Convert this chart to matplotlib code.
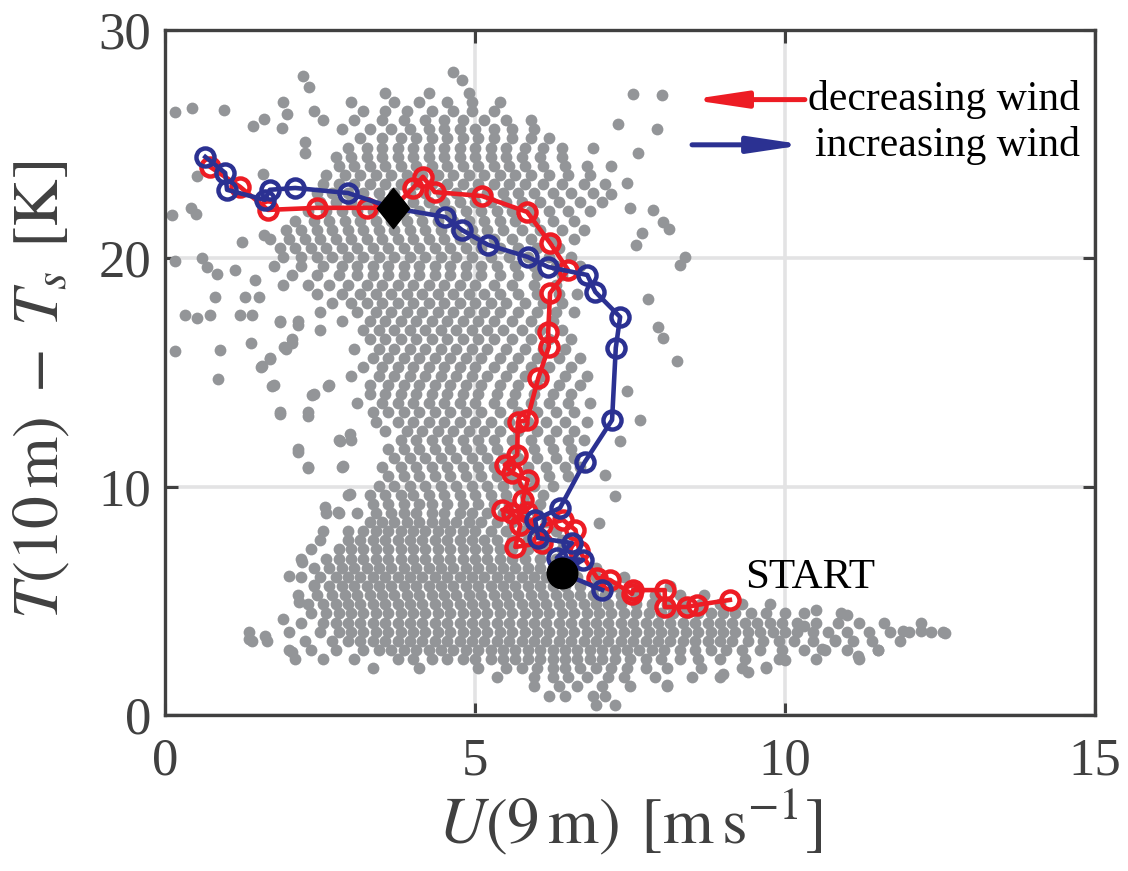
import matplotlib.pyplot as plt
from matplotlib.path import Path
import numpy as np

plt.rcParams['font.family'] = ['Liberation Serif', 'DejaVu Serif']
plt.rcParams['mathtext.fontset'] = 'stix'

# --- measured cloud: temperature difference levels and the wind speeds observed at each ---
row_t = [0.45, 0.85, 1.25, 1.65, 2.05, 2.45, 2.85, 3.25, 3.65, 4.05, 4.45, 4.85, 5.25, 5.65,
         6.05, 6.45, 6.85, 7.25, 7.65, 8.05, 8.45, 8.85, 9.25, 9.65, 10.05, 10.45, 10.85,
         11.25, 11.65, 12.05, 12.45, 12.85, 13.25, 13.65, 14.05, 14.45, 14.85, 15.25, 15.65,
         16.05, 16.45, 16.85, 17.25, 17.65, 18.05, 18.45, 18.85, 19.25, 19.65, 20.05, 20.45,
         20.85, 21.25, 21.65, 22.05, 22.45, 22.85, 23.25, 23.65, 24.05, 24.45, 24.85, 25.25,
         25.65, 26.05, 26.45, 26.85, 27.25]
row_u = [
    [6.95, 7.25],
    [6.2, 6.45, 6.9, 7.1],
    [5.95, 6.35, 6.65, 7.05, 7.5, 8.1],
    [5.35, 5.95, 6.25, 6.5, 6.8, 7.15, 7.4, 7.9, 8.5, 8.95],
    [3.35, 4.1, 5.05, 5.5, 5.75, 6.0, 6.25, 6.45, 6.7, 6.95, 7.2, 7.45, 7.75, 8.1, 8.65, 9.3, 9.7],
    [2.1, 2.55, 3.05, 3.75, 4.0, 4.3, 4.55, 4.8, 5.0, 5.25, 5.45, 5.65, 5.85, 6.05, 6.25, 6.45,
     6.65, 6.85, 7.05, 7.25, 7.5, 7.75, 8.0, 8.3, 8.6, 8.95, 9.35, 9.9, 10.5, 11.2],
    [2.0, 2.35, 2.75, 3.2, 3.45, 3.65, 3.85, 4.05, 4.25, 4.45, 4.65, 4.85, 5.05, 5.25, 5.45,
     5.65, 5.85, 6.05, 6.25, 6.45, 6.65, 6.85, 7.05, 7.25, 7.45, 7.65, 7.85, 8.05, 8.3, 8.55,
     8.8, 9.05, 9.3, 9.6, 9.95, 10.3, 10.65, 11.0, 11.5],
    [1.4, 1.65, 2.25, 2.7, 2.95, 3.15, 3.35, 3.55, 3.75, 3.95, 4.15, 4.35, 4.55, 4.75, 4.95,
     5.15, 5.35, 5.55, 5.75, 5.95, 6.15, 6.35, 6.55, 6.75, 6.95, 7.15, 7.35, 7.55, 7.75, 7.95,
     8.15, 8.35, 8.55, 8.75, 8.95, 9.15, 9.4, 9.65, 9.9, 10.15, 10.45, 10.8, 11.1, 11.4, 11.85],
    [1.35, 2.0, 2.5, 2.8, 3.0, 3.2, 3.4, 3.6, 3.8, 4.0, 4.2, 4.4, 4.6, 4.8, 5.0, 5.2, 5.4, 5.6,
     5.8, 6.0, 6.2, 6.4, 6.6, 6.8, 7.0, 7.2, 7.4, 7.6, 7.8, 8.0, 8.2, 8.4, 8.6, 8.8, 9.0, 9.2,
     9.4, 9.6, 9.8, 10.0, 10.2, 10.45, 10.7, 11.0, 11.35, 11.7, 12.0, 12.35, 12.55],
    [2.2, 2.55, 2.75, 2.95, 3.15, 3.35, 3.55, 3.75, 3.95, 4.15, 4.35, 4.55, 4.75, 4.95, 5.15,
     5.35, 5.55, 5.75, 5.95, 6.15, 6.35, 6.55, 6.75, 6.95, 7.15, 7.35, 7.55, 7.75, 7.95, 8.15,
     8.35, 8.55, 8.75, 8.95, 9.15, 9.35, 9.55, 9.75, 9.95, 10.2, 10.5, 10.85, 11.2, 11.6, 12.2],
    [2.35, 2.6, 2.8, 3.0, 3.2, 3.4, 3.6, 3.8, 4.0, 4.2, 4.4, 4.6, 4.8, 5.0, 5.2, 5.4, 5.6, 5.8,
     6.0, 6.2, 6.4, 6.6, 6.8, 7.0, 7.2, 7.4, 7.6, 7.8, 8.0, 8.2, 8.4, 8.6, 8.8, 9.0, 9.2, 9.45,
     9.7, 10.0, 10.3, 10.9],
    [2.3, 2.55, 2.75, 2.95, 3.15, 3.35, 3.55, 3.75, 3.95, 4.15, 4.35, 4.55, 4.75, 4.95, 5.15,
     5.35, 5.55, 5.75, 5.95, 6.15, 6.35, 6.55, 6.75, 6.95, 7.15, 7.35, 7.6, 7.85, 8.1, 8.35,
     8.65, 8.95, 9.3, 9.75],
    [2.15, 2.45, 2.7, 2.9, 3.1, 3.3, 3.5, 3.7, 3.9, 4.1, 4.3, 4.5, 4.7, 4.9, 5.1, 5.3, 5.5, 5.7,
     5.9, 6.1, 6.3, 6.5, 6.7, 6.9, 7.1, 7.35, 7.6, 7.9, 8.3, 8.7],
    [2.4, 2.65, 2.85, 3.05, 3.25, 3.45, 3.65, 3.85, 4.05, 4.25, 4.45, 4.65, 4.85, 5.05, 5.25,
     5.45, 5.65, 5.85, 6.05, 6.25, 6.45, 6.7, 6.95, 7.25, 7.6, 8.15],
    [2.2, 2.5, 2.75, 2.95, 3.15, 3.35, 3.55, 3.75, 3.95, 4.15, 4.35, 4.55, 4.75, 4.95, 5.15,
     5.35, 5.55, 5.75, 5.95, 6.15, 6.4, 6.65, 6.95, 7.4],
    [2.4, 2.65, 2.85, 3.05, 3.25, 3.45, 3.65, 3.85, 4.05, 4.25, 4.45, 4.65, 4.85, 5.05, 5.25,
     5.45, 5.65, 5.85, 6.05, 6.3, 6.6, 6.95],
    [2.2, 2.6, 2.8, 3.0, 3.2, 3.4, 3.6, 3.8, 4.0, 4.2, 4.4, 4.6, 4.8, 5.0, 5.2, 5.4, 5.6, 5.8,
     6.05, 6.3, 6.6],
    [2.35, 2.8, 3.0, 3.2, 3.4, 3.6, 3.8, 4.0, 4.2, 4.4, 4.6, 4.8, 5.0, 5.2, 5.4, 5.6, 5.85, 6.1, 6.4],
    [2.5, 2.95, 3.15, 3.35, 3.55, 3.75, 3.95, 4.15, 4.35, 4.55, 4.75, 4.95, 5.15, 5.35, 5.6,
     5.85, 6.15, 6.4],
    [2.55, 2.95, 3.2, 3.4, 3.6, 3.8, 4.0, 4.2, 4.4, 4.6, 4.8, 5.0, 5.25, 5.5, 5.75, 6.0, 6.3],
    [3.3, 3.5, 3.7, 3.9, 4.1, 4.3, 4.5, 4.7, 4.9, 5.1, 5.35, 5.6, 5.85, 6.15],
    [2.6, 2.8, 3.1, 3.4, 3.65, 3.85, 4.05, 4.3, 4.5, 4.75, 4.95, 5.2, 5.45, 5.75, 6.0],
    [3.35, 3.6, 3.85, 4.1, 4.3, 4.55, 4.8, 5.05, 5.3, 5.55, 5.8, 6.05],
    [2.95, 3.3, 3.55, 3.8, 4.0, 4.25, 4.5, 4.75, 5.0, 5.25, 5.5, 5.8, 6.1],
    [3.45, 3.7, 3.95, 4.2, 4.45, 4.7, 4.95, 5.2, 5.45, 5.7, 5.95, 6.25],
    [3.6, 3.85, 4.1, 4.35, 4.6, 4.85, 5.1, 5.35, 5.6, 5.9, 6.2, 6.5],
    [2.3, 2.85, 3.5, 3.8, 4.05, 4.3, 4.55, 4.8, 5.05, 5.3, 5.55, 5.85, 6.15, 6.45, 6.7],
    [3.7, 3.95, 4.2, 4.45, 4.7, 4.95, 5.2, 5.45, 5.7, 6.0, 6.3, 6.6],
    [2.15, 3.6, 3.85, 4.1, 4.35, 4.6, 4.85, 5.1, 5.35, 5.65, 5.95, 6.25, 6.55],
    [2.8, 3.0, 3.8, 4.05, 4.3, 4.55, 4.8, 5.05, 5.3, 5.6, 5.9, 6.2, 6.5, 6.75],
    [3.55, 3.9, 4.15, 4.4, 4.65, 4.9, 5.15, 5.4, 5.7, 6.0, 6.3, 6.6],
    [3.4, 3.75, 4.0, 4.25, 4.5, 4.75, 5.0, 5.25, 5.55, 5.85, 6.15, 6.45, 6.8],
    [1.85, 2.3, 3.35, 3.6, 3.85, 4.1, 4.35, 4.6, 4.85, 5.1, 5.4, 5.7, 6.0, 6.3, 6.6],
    [3.1, 3.5, 3.75, 4.0, 4.25, 4.5, 4.75, 5.0, 5.3, 5.6, 5.9, 6.2, 6.5, 6.85],
    [2.4, 3.3, 3.55, 3.8, 4.05, 4.3, 4.55, 4.8, 5.05, 5.35, 5.65, 5.95, 6.25, 6.55],
    [1.75, 2.65, 3.3, 3.6, 3.85, 4.1, 4.35, 4.6, 4.85, 5.1, 5.4, 5.7, 6.0, 6.35, 6.7],
    [3.0, 3.45, 3.7, 3.95, 4.2, 4.45, 4.7, 4.95, 5.2, 5.5, 5.8, 6.1, 6.45, 6.8],
    [1.55, 3.2, 3.5, 3.75, 4.0, 4.25, 4.5, 4.75, 5.0, 5.3, 5.6, 5.9, 6.2, 6.55],
    [1.7, 3.35, 3.6, 3.85, 4.1, 4.35, 4.6, 4.85, 5.1, 5.4, 5.7, 6.0, 6.35, 6.7],
    [1.95, 3.05, 3.45, 3.7, 3.95, 4.2, 4.45, 4.7, 4.95, 5.2, 5.5, 5.8, 6.1, 6.45],
    [2.05, 3.3, 3.55, 3.8, 4.05, 4.3, 4.55, 4.8, 5.05, 5.3, 5.6, 5.9, 6.2, 6.55],
    [2.5, 3.2, 3.45, 3.7, 3.95, 4.2, 4.45, 4.7, 4.95, 5.2, 5.45, 5.75, 6.05, 6.4],
    [1.85, 2.15, 2.85, 3.3, 3.55, 3.8, 4.05, 4.3, 4.55, 4.8, 5.05, 5.3, 5.6, 5.9, 6.25],
    [2.5, 3.1, 3.4, 3.65, 3.9, 4.15, 4.4, 4.65, 4.9, 5.15, 5.4, 5.7, 6.0, 6.3, 6.6],
    [2.7, 3.0, 3.25, 3.5, 3.75, 4.0, 4.25, 4.5, 4.75, 5.0, 5.25, 5.5, 5.8, 6.1, 6.4],
    [2.45, 2.85, 3.15, 3.4, 3.65, 3.9, 4.15, 4.4, 4.65, 4.9, 5.15, 5.4, 5.7, 6.0, 6.35, 6.65],
    [1.9, 2.3, 2.65, 2.95, 3.25, 3.5, 3.75, 4.0, 4.25, 4.5, 4.75, 5.0, 5.3, 5.6, 5.95, 6.3],
    [2.05, 2.45, 2.8, 3.1, 3.35, 3.6, 3.85, 4.1, 4.35, 4.6, 4.85, 5.1, 5.4, 5.7, 6.0, 6.4],
    [1.75, 2.2, 2.55, 2.85, 3.1, 3.35, 3.6, 3.85, 4.1, 4.35, 4.6, 4.85, 5.1, 5.35, 5.65, 5.95,
     6.3, 6.7],
    [1.9, 2.2, 2.45, 2.7, 2.95, 3.2, 3.45, 3.7, 3.95, 4.2, 4.45, 4.7, 4.95, 5.25, 5.55, 5.85,
     6.2, 6.55],
    [1.85, 2.1, 2.35, 2.6, 2.85, 3.1, 3.35, 3.6, 3.85, 4.1, 4.35, 4.6, 4.85, 5.1, 5.4, 5.7, 6.0,
     6.35],
    [1.7, 2.0, 2.25, 2.5, 2.75, 3.0, 3.25, 3.5, 3.75, 4.0, 4.25, 4.5, 4.75, 5.0, 5.3, 5.6, 5.9,
     6.25, 6.6],
    [1.95, 2.2, 2.45, 2.7, 2.95, 3.2, 3.45, 3.7, 3.95, 4.2, 4.45, 4.7, 4.95, 5.2, 5.45, 5.75,
     6.05, 6.4, 6.75],
    [2.1, 2.4, 2.65, 2.9, 3.15, 3.4, 3.65, 3.9, 4.15, 4.4, 4.65, 4.9, 5.15, 5.4, 5.65, 5.95,
     6.25, 6.6],
    [2.3, 2.6, 2.85, 3.1, 3.35, 3.6, 3.85, 4.1, 4.35, 4.6, 4.85, 5.1, 5.35, 5.6, 5.9, 6.2, 6.5,
     6.85],
    [2.5, 2.75, 3.0, 3.25, 3.5, 3.75, 4.0, 4.25, 4.5, 4.75, 5.0, 5.25, 5.5, 5.75, 6.05, 6.35,
     6.7, 7.05],
    [2.45, 2.7, 2.95, 3.2, 3.45, 3.7, 3.95, 4.2, 4.45, 4.7, 4.95, 5.2, 5.45, 5.7, 5.95, 6.25,
     6.55, 6.9],
    [2.55, 2.8, 3.05, 3.3, 3.55, 3.8, 4.05, 4.3, 4.55, 4.8, 5.05, 5.3, 5.55, 5.8, 6.1, 6.4,
     6.75, 7.1],
    [2.6, 2.9, 3.15, 3.4, 3.65, 3.9, 4.15, 4.4, 4.65, 4.9, 5.15, 5.4, 5.65, 5.9, 6.2, 6.5, 6.85],
    [2.8, 3.05, 3.3, 3.55, 3.8, 4.05, 4.3, 4.55, 4.8, 5.05, 5.3, 5.55, 5.8, 6.1, 6.45, 6.8, 7.2],
    [2.75, 3.0, 3.25, 3.5, 3.75, 4.0, 4.25, 4.5, 4.75, 5.0, 5.25, 5.5, 5.75, 6.05, 6.4],
    [2.95, 3.25, 3.5, 3.75, 4.0, 4.25, 4.5, 4.75, 5.0, 5.25, 5.5, 5.8, 6.1, 6.4, 6.9],
    [3.15, 3.5, 3.8, 4.05, 4.3, 4.55, 4.8, 5.05, 5.3, 5.6, 5.9, 6.2],
    [2.85, 3.3, 3.65, 3.95, 4.25, 4.5, 4.75, 5.0, 5.3, 5.6, 5.95],
    [2.55, 3.05, 3.5, 3.85, 4.2, 4.5, 4.8, 5.15, 5.5, 5.9],
    [2.4, 3.2, 3.55, 3.9, 4.3, 4.65, 4.95, 5.3],
    [3.0, 3.7, 4.1, 4.55, 4.95, 5.4],
    [3.55, 4.25, 4.9],
]

# isolated observations away from the main cloud
stray_u = [4.65, 4.79, 2.23, 2.32, 0.16, 0.44, 0.95, 1.6, 1.42, 1.9, 1.97, 1.89, 2.26, 2.26,
           0.52, 0.11, 0.42, 0.5, 1.24, 1.58, 1.6, 0.16, 0.6, 0.68, 0.84, 1.13, 1.45, 0.81,
           1.29, 1.52, 0.32, 0.52, 0.73, 1.21, 1.4, 0.16, 0.89, 0.85, 1.39, 1.56, 1.69, 1.92,
           2.05, 1.85, 2.15, 1.73, 1.85, 2.31, 2.37, 2.63, 2.15, 2.31, 2.82, 2.98, 2.87, 2.58,
           2.79, 2.98, 7.55, 8.02, 7.94, 7.63, 7.45, 7.87, 8.03, 8.13, 8.39, 7.3, 7.2, 7.5,
           7.7, 7.6, 8.3, 8.03, 8.26, 7.79, 7.34, 7.66, 7.45, 7.1, 7.25, 7.95, 7.0, 9.0,
           9.7, 8.1, 10.3, 10.6, 10.8, 11.18, 11.5, 11.9, 12.2, 12.58, 10.0, 9.4, 11.0, 10.5,
           1.35, 1.61, 2.05, 2.16, 2.21, 2.4, 1.9, 2.0]
stray_t = [28.15, 27.8, 28.0, 27.5, 26.4, 26.6, 26.5, 26.1, 25.8, 26.85, 26.3, 25.7, 25.1,
           24.6, 23.6, 21.9, 22.2, 21.95, 20.7, 23.7, 21.0, 19.9, 20.0, 19.6, 19.3, 19.5,
           19.05, 18.3, 18.3, 18.3, 17.5, 17.4, 17.5, 17.5, 17.5, 15.95, 16.0, 14.7, 16.3,
           15.3, 15.6, 16.1, 16.3, 17.2, 17.1, 14.4, 13.2, 13.1, 14.0, 14.4, 11.5, 10.8, 12.0,
           12.3, 10.9, 9.1, 8.9, 9.7, 27.2, 27.15, 25.67, 24.6, 23.3, 22.1, 21.6, 21.3, 20.06,
           25.9, 22.8, 22.2, 21.1, 20.6, 19.7, 16.5, 15.5, 18.2, 12.0, 12.9, 14.2, 10.5, 9.6,
           17.0, 8.4, 1.8, 2.1, 1.3, 3.9, 2.9, 3.3, 2.6, 2.85, 3.7, 3.7, 3.6, 2.4, 1.9, 4.4,
           4.6, 3.33, 3.46, 2.76, 4.95, 6.7, 5.7, 4.2, 6.1]

# averaged trajectories
dec_u = [9.11, 8.58, 8.42, 8.06, 8.06, 7.55, 7.53, 7.18, 6.97, 6.68, 6.62, 6.42, 6.08, 6.08,
         5.65, 5.73, 5.6, 5.44, 5.84, 5.77, 5.85, 5.6, 5.48, 5.68, 5.69, 5.84, 6.02, 6.19,
         6.18, 6.21, 6.5, 6.21, 5.84, 5.11, 4.35, 4.16, 4.0, 3.68, 3.26, 2.45, 1.66, 1.21, 0.73]
dec_t = [5.04, 4.82, 4.73, 4.73, 5.47, 5.47, 5.3, 5.91, 6.0, 7.2, 8.1, 8.54, 8.3, 7.53,
         7.36, 8.32, 8.85, 8.98, 8.89, 9.42, 10.29, 10.6, 10.95, 11.39, 12.83, 12.92, 14.76,
         16.12, 16.78, 18.48, 19.49, 20.67, 22.03, 22.73, 22.9, 23.57, 23.08, 22.2, 22.21,
         22.21, 22.12, 23.13, 24.0]
inc_u = [7.05, 6.4, 6.74, 6.32, 6.56, 6.02, 5.97, 6.37, 6.77, 7.21, 7.27, 7.34, 6.94, 6.81,
         6.18, 5.85, 5.21, 4.79, 4.52, 3.68, 2.95, 2.1, 1.69, 1.61, 1.0, 0.97, 0.65]
inc_t = [5.48, 6.22, 6.79, 6.88, 7.53, 7.75, 8.54, 9.07, 11.08, 12.92, 16.08, 17.43, 18.53,
         19.27, 19.62, 20.06, 20.59, 21.24, 21.81, 22.2, 22.86, 23.08, 23.0, 22.56, 23.0,
         23.74, 24.44]
start_u, start_t = 6.4, 6.22
turn_u, turn_t = 3.68, 22.2

red = '#ed1c24'
blue = '#2b3192'
gray = '#939598'
dark = '#404040'

cloud_u = np.concatenate([np.array(r) for r in row_u] + [np.array(stray_u)])
cloud_t = np.concatenate([np.full(len(r), t) for r, t in zip(row_u, row_t)] + [np.array(stray_t)])

fig = plt.figure(figsize=(11.28, 8.71), dpi=100)
ax = fig.add_axes([0.1463, 0.1791, 0.8245, 0.7865])

ax.scatter(cloud_u, cloud_t, s=72, color=gray, linewidths=0, zorder=2)

ax.plot(dec_u, dec_t, '-o', color=red, lw=3.3, ms=13, mfc='none', mec=red, mew=3.2, zorder=3)
ax.plot(inc_u, inc_t, '-o', color=blue, lw=3.3, ms=13, mfc='none', mec=blue, mew=3.2, zorder=4)

ax.plot(start_u, start_t, 'o', color='black', ms=22, zorder=6)
diamond = Path([(0, 1), (0.8, 0), (0, -1), (-0.8, 0), (0, 1)],
               [Path.MOVETO, Path.LINETO, Path.LINETO, Path.LINETO, Path.CLOSEPOLY])
ax.plot(turn_u, turn_t, marker=diamond, color='black', ms=29, lw=0, zorder=6)

ax.text(9.35, 6.0, 'START', fontsize=31, va='center', ha='left', zorder=7)

# arrow key
head = '-|>,head_length=1.6,head_width=0.24'
ax.annotate('', xy=(8.47, 26.95), xytext=(10.32, 26.95),
            arrowprops=dict(arrowstyle=head, color=red, lw=3.6, shrinkA=0, shrinkB=0,
                            mutation_scale=20), zorder=7)
ax.annotate('', xy=(10.32, 24.97), xytext=(8.5, 24.97),
            arrowprops=dict(arrowstyle=head, color=blue, lw=3.6, shrinkA=0, shrinkB=0,
                            mutation_scale=20), zorder=7)
ax.text(10.37, 26.95, 'decreasing wind', fontsize=30, va='center', ha='left', zorder=7)
ax.text(10.48, 24.95, 'increasing wind', fontsize=30, va='center', ha='left', zorder=7)

ax.set_xlim(0, 15)
ax.set_ylim(0, 30)
ax.set_xticks([0, 5, 10, 15])
ax.set_yticks([0, 10, 20, 30])
ax.grid(True, color='#e3e3e4', lw=2.6)
ax.set_axisbelow(True)
ax.tick_params(direction='in', length=9, width=2.2, colors=dark, labelsize=38,
               top=True, right=True)
ax.tick_params(axis='x', pad=16)
ax.tick_params(axis='y', pad=10)
for sp in ax.spines.values():
    sp.set_color(dark)
    sp.set_linewidth(2.4)

ax.set_xlabel(r'$U(9\,\mathrm{m})\;\,[\mathrm{m\,s^{-1}}]$', fontsize=47, color=dark, labelpad=2)
ax.set_ylabel(r'$T(10\,\mathrm{m})\;-\;T_s\;\,[\mathrm{K}]$', fontsize=47, color=dark)
ax.yaxis.set_label_coords(-0.1, 0.475)

fig.savefig('out.png', dpi=100)
